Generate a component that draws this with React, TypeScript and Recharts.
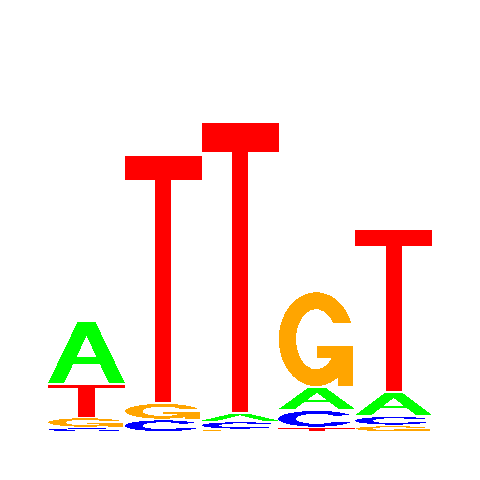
import { BarChart, Bar, XAxis, YAxis } from 'recharts';

// information (bits) carried by each base at each position
const positions = ['1', '2', '3', '4', '5'];
const aBits = [0.394, 0, 0.053, 0.144, 0.15];
const cBits = [0.028, 0.078, 0.05, 0.109, 0.059];
const gBits = [0.063, 0.103, 0.016, 0.597, 0.041];
const tBits = [0.209, 1.55, 1.819, 0.028, 1.019];

const bases = ['A', 'C', 'G', 'T'];
const baseBits: Record<string, number[]> = { A: aBits, C: cBits, G: gBits, T: tBits };

const baseColors: Record<string, string> = {
  A: '#00ff00',
  C: '#0000ff',
  G: '#ffa500',
  T: '#ff0000',
};

// glyph outlines in a unit box (0..1 both ways, y down)
const glyphPaths: Record<string, string[]> = {
  A: [
    'M0,1 L0.385,0 L0.615,0 L1,1 L0.79,1 L0.67,0.68 L0.33,0.68 L0.21,1 Z M0.5,0.23 L0.37,0.575 L0.63,0.575 Z',
  ],
  C: ['M0.94,0.265 A0.5,0.5 0 1 0 0.94,0.735 L0.72,0.684 A0.27,0.32 0 1 1 0.72,0.316 Z'],
  G: [
    'M0.946,0.329 A0.485,0.5 0 1 0 0.91,0.75 L0.715,0.66 A0.26,0.32 0 1 1 0.71,0.33 Z',
    'M0.5,0.57 L0.975,0.57 L0.975,1 L0.78,1 L0.78,0.7 L0.5,0.7 Z',
  ],
  T: ['M0,0 L1,0 L1,0.1 L0.605,0.1 L0.605,1 L0.395,1 L0.395,0.1 L0,0.1 Z'],
};

// stack smallest at the bottom, per position
const tableData = positions.map((pos, i) => {
  const row: Record<string, string | number> = { pos };
  const sorted = bases
    .map((b) => ({ b, v: baseBits[b][i] }))
    .sort((p, q) => p.v - q.v);
  sorted.forEach((s, r) => {
    row[`v${r}`] = s.v;
    row[`l${r}`] = s.b;
  });
  return row;
});

const renderGlyph = (rank: number) => (props: any) => {
  const { x, y, width, height, payload } = props;
  if (!height || height <= 0.5) return <g />;
  const letter = payload[`l${rank}`] as string;
  const pad = Math.min(0.8, height * 0.2);
  const h = height - pad * 2;
  return (
    <g transform={`translate(${x},${y + pad}) scale(${width},${h})`}>
      {glyphPaths[letter].map((d, k) => (
        <path
          key={k}
          d={d}
          fill={baseColors[letter]}
          fillRule="evenodd"
          shapeRendering="crispEdges"
        />
      ))}
    </g>
  );
};

const App = () => {
  return (
    <div style={{ position: 'absolute', left: 0, top: 0, background: '#fff' }}>
      <BarChart
        width={480}
        height={480}
        data={tableData}
        margin={{ top: 112, right: 48, bottom: 48, left: 48 }}
        barCategoryGap={0}
        barGap={0}
      >
        <XAxis dataKey="pos" hide />
        <YAxis hide domain={[0, 2]} />
        {[0, 1, 2, 3].map((r) => (
          <Bar
            key={r}
            dataKey={`v${r}`}
            stackId="logo"
            isAnimationActive={false}
            shape={renderGlyph(r)}
          />
        ))}
      </BarChart>
    </div>
  );
};

export default App;
